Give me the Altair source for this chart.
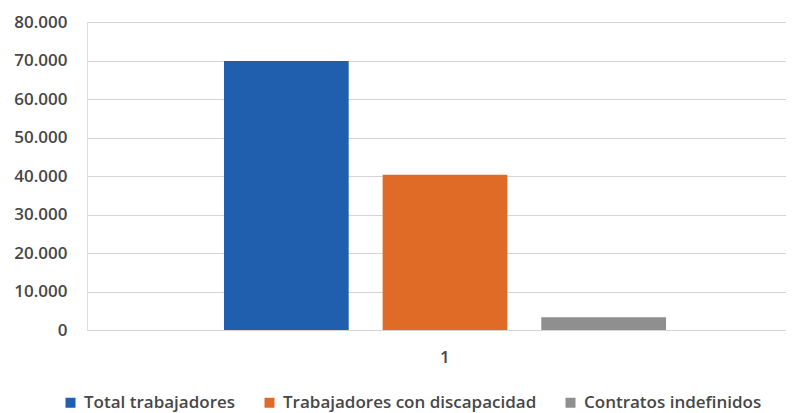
import altair as alt
import pandas as pd

categories = ["1", "1", "1"]
series = ["Total trabajadores", "Trabajadores con discapacidad", "Contratos indefinidos"]
values = [69900, 40300, 3300]
colors = ["#1f5fae", "#e06b26", "#8f8f8f"]
y_ticks = [0, 10000, 20000, 30000, 40000, 50000, 60000, 70000, 80000]

df = pd.DataFrame({"cat": categories, "serie": series, "valor": values})

FONT = "Open Sans"
TXT = "#474747"
GRID = "#d9d4cf"

chart = alt.Chart(df).mark_bar().encode(
    x=alt.X("cat:N", title=None,
            scale=alt.Scale(paddingInner=0, paddingOuter=0.2907, align=0.533),
            axis=alt.Axis(labelAngle=0, ticks=False, grid=False, domain=True, domainColor=GRID,
                          domainWidth=1.2, labelPadding=19, labelFont=FONT, labelFontSize=17,
                          labelFontWeight=600, labelColor=TXT)),
    xOffset=alt.XOffset("serie:N", sort=series,
                        scale=alt.Scale(paddingInner=0.214, paddingOuter=0)),
    y=alt.Y("valor:Q", title=None,
            scale=alt.Scale(domain=[0, 80000], nice=False),
            axis=alt.Axis(values=y_ticks, ticks=False, domain=False, gridColor=GRID,
                          gridWidth=1.2, labelPadding=20, labelFont=FONT, labelFontSize=17,
                          labelFontWeight=600, labelColor=TXT,
                          labelExpr="replace(format(datum.value, ','), ',', '.')")),
    color=alt.Color("serie:N", sort=series,
                    scale=alt.Scale(domain=series, range=colors),
                    legend=alt.Legend(title=None, orient="none", direction="horizontal",
                                      legendX=-25, legendY=372, symbolType="square",
                                      symbolSize=100, symbolStrokeWidth=0,
                                      labelFont=FONT, labelFontSize=17, labelFontWeight=600,
                                      labelColor=TXT, labelLimit=0,
                                      columnPadding=25, labelOffset=5)),
).properties(
    width=699, height=308,
    autosize=alt.AutoSizeParams(type="none"),
    padding={"left": 79, "top": 14, "right": 0, "bottom": 83},
).configure_view(stroke=None, strokeWidth=0).configure(background="white")

chart.save("out.html", embed_options={"renderer": "svg", "actions": False})
